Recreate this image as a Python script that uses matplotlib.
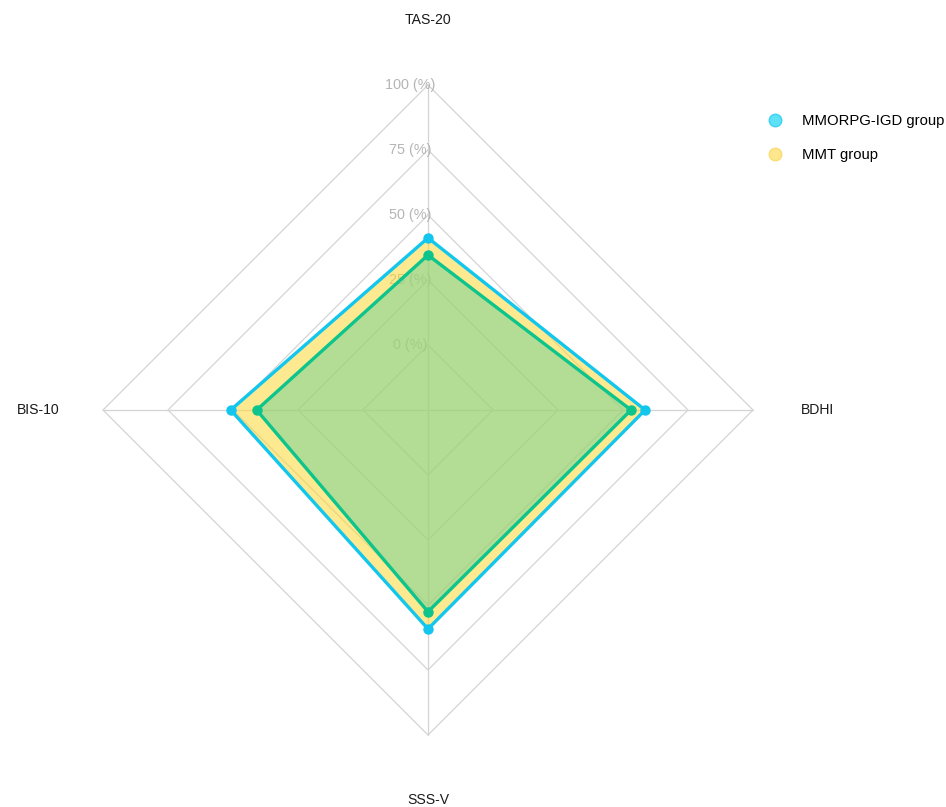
import numpy as np
import matplotlib
matplotlib.use("Agg")
import matplotlib.pyplot as plt
from matplotlib.lines import Line2D

plt.rcParams['font.family'] = ['Liberation Sans', 'DejaVu Sans']

# data
axes_names = ['TAS-20', 'BDHI', 'SSS-V', 'BIS-10']
igd = [41.2, 58.5, 59.2, 50.9]    # MMORPG-IGD group
mmt = [34.6, 53.1, 52.6, 40.9]    # MMT group
scale_labels = ['0 (%)', '25 (%)', '50 (%)', '75 (%)', '100 (%)']
scale_values = [0, 25, 50, 75, 100]
series_names = ['MMORPG-IGD group', 'MMT group']

# clockwise from top
ang = np.pi / 2 - np.arange(len(axes_names)) * 2 * np.pi / len(axes_names)

def rad(v):
    # fmsb style: 0 sits at 1/5 of the radius, 100 at the rim
    return 0.2 + 0.8 * np.asarray(v, dtype=float) / 100

def xy(vals):
    r = rad(vals)
    x = r * np.cos(ang)
    y = r * np.sin(ang)
    return np.append(x, x[0]), np.append(y, y[0])

fig = plt.figure(figsize=(9.46, 8.07), dpi=100)
ax = fig.add_axes([0, 0, 1, 1])
ax.set_xlim(-428 / 325, 518 / 325)
ax.set_ylim(-397 / 325, 410 / 325)
ax.axis('off')

grid_c = '#D4D4D4'
# grid rings
for v in scale_values:
    gx, gy = xy([v] * len(axes_names))
    ax.plot(gx, gy, color=grid_c, lw=0.9, zorder=1)
# spokes
for a in ang:
    ax.plot([0, np.cos(a)], [0, np.sin(a)], color=grid_c, lw=0.9, zorder=1)
# scale labels
for v, lab in zip(scale_values, scale_labels):
    ax.text(-0.055, rad(v), lab, ha='center', va='center', color='#B5B5B5',
            fontsize=10.4, zorder=2)
# axis names
for a, name in zip(ang, axes_names):
    ax.text(1.2 * np.cos(a), 1.2 * np.sin(a), name, ha='center', va='center',
            fontsize=10.1, color='#1a1a1a')

# series
x1, y1 = xy(igd)
x2, y2 = xy(mmt)
ax.fill(x1, y1, color='#FDD835', alpha=0.55, lw=0, zorder=3)
ax.fill(x2, y2, color='#6AD298', alpha=0.5, lw=0, zorder=4)
ax.plot(x1, y1, color='#12C6EE', lw=2.4, zorder=5)
ax.plot(x2, y2, color='#0CC48C', lw=2.4, zorder=6)
ax.plot(x1[:-1], y1[:-1], 'o', color='#12C6EE', ms=6.5, zorder=7)
ax.plot(x2[:-1], y2[:-1], 'o', color='#0CC48C', ms=6.5, zorder=7)

handles = [
    Line2D([], [], ls='none', marker='o', ms=9, mfc='#5CE1F7', mec='#3FD2F0'),
    Line2D([], [], ls='none', marker='o', ms=9, mfc='#FDE68C', mec='#F9DD75'),
]
ax.legend(handles, series_names, loc='upper left', bbox_to_anchor=(0.7968, 0.866),
          frameon=False, fontsize=10.7, handletextpad=0.85, labelspacing=1.35,
          borderaxespad=0)

fig.savefig('out.png', dpi=100)
